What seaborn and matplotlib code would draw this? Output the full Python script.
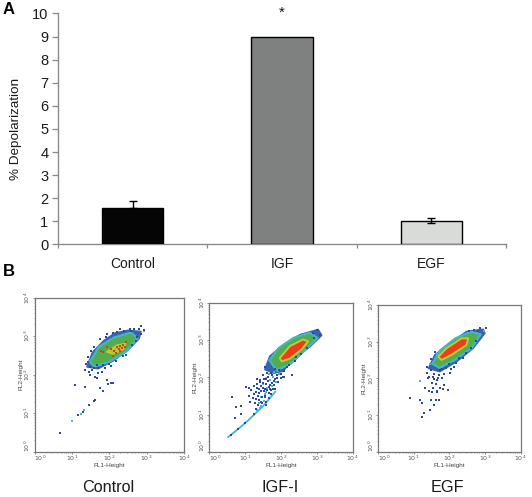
import matplotlib
matplotlib.use("Agg")
import matplotlib.pyplot as plt
import numpy as np
import pandas as pd
import seaborn as sns

sns.set_theme(style="white")
plt.rcParams['font.family'] = ['Liberation Sans', 'DejaVu Sans']

# ---------- bar data ----------
categories = ["Control", "IGF", "EGF"]
depolarization = [1.6, 9.0, 1.03]
err_cats = ["Control", "EGF"]
err_vals = [1.6, 1.03]
err_up = [0.27, 0.11]
err_down = [0.0, 0.11]
bar_colors = ["#050505", "#7f8180", "#d9dbd9"]

# ---------- flow plots: values in decades (log10) ----------
c_out_x = [.67,1.17,1.29,1.46,1.58,1.63,1.08,1.36,1.76,1.83,1.95,1.96,2.04,2.11,1.49,1.63,1.67,1.71,1.80,1.36,1.47,1.58,1.71,1.89,1.38,1.49,2.85,2.94,2.79,2.65,1.42,1.52,1.60,1.75,1.95,2.30,2.55,2.75,2.05,2.45,1.44,1.55,1.66,1.82,2.0,2.18,2.36,2.62,2.72,2.86,2.22,2.58,1.90,2.10,2.40]
c_out_y = [.48,.96,1.04,1.20,1.32,1.35,1.72,1.67,1.64,1.57,1.85,1.75,1.77,1.79,1.98,1.94,1.90,2.03,2.07,2.11,2.07,2.16,2.18,2.16,2.28,2.20,3.25,3.16,3.19,3.19,2.45,2.62,2.72,2.92,3.05,3.17,3.18,2.98,2.22,2.50,2.32,2.12,2.24,2.26,2.28,2.36,2.48,2.76,2.88,3.06,3.10,3.12,2.98,3.08,3.14]
c_cy_x = [1.01,1.24,1.33,2.92]
c_cy_y = [.79,.99,1.08,3.12]
c_blue_x = [1.40,1.55,1.85,2.15,2.50,2.85,2.80,2.50,2.10,1.70]
c_blue_y = [2.20,2.58,2.88,3.08,3.15,3.12,2.93,2.63,2.35,2.15]
c_green_x = [1.48,1.72,2.12,2.58,2.76,2.44,1.98,1.60]
c_green_y = [2.33,2.72,2.96,3.09,2.94,2.59,2.32,2.21]
c_core_x = [1.94,2.21,2.43,2.38,2.11]
c_core_y = [2.59,2.76,2.80,2.67,2.54]
c_red_x = [1.78,1.82,2.05,2.12,2.20,2.25,2.28,2.33,2.38,2.42,2.18,2.30,2.45,1.95,2.10]
c_red_y = [2.62,2.58,2.66,2.60,2.72,2.66,2.75,2.70,2.78,2.72,2.56,2.62,2.85,2.72,2.48]

i_out_x = [.65,.75,.88,.90,.72,1.02,1.10,1.12,1.18,1.22,1.25,1.28,1.30,1.33,1.36,1.38,1.40,1.42,1.45,1.47,1.50,1.52,1.55,1.58,1.60,1.62,1.65,1.68,1.70,1.72,1.75,1.78,1.80,1.85,1.90,1.95,2.00,2.05,2.10,2.30,1.15,1.24,1.31,1.35,1.40,1.44,1.48,1.53,1.57,1.63,1.67,1.71,1.76,1.82,1.88,1.30,1.37,1.45,1.55,1.60,3.0,3.1,2.9,1.34,1.43,1.50,1.58,1.66,1.73,1.84,1.92,2.0,2.08,2.16,2.42,2.55,2.72,2.92,1.50,1.62,1.73,1.85,1.56,2.38,2.22,.60,.82,1.0,1.25]
i_out_y = [1.46,1.20,1.24,1.02,.90,1.75,1.72,1.50,1.65,1.45,1.78,1.30,1.60,1.82,1.50,1.70,1.38,1.88,1.62,1.30,1.72,1.95,1.50,1.82,1.35,1.66,2.00,1.45,1.80,1.55,2.05,1.70,1.90,1.95,2.05,2.20,2.10,2.02,2.00,2.05,1.35,1.55,1.42,1.95,1.58,1.78,1.46,1.62,1.68,1.90,1.58,1.70,1.85,1.80,1.98,1.15,1.25,1.35,1.48,1.25,3.28,3.13,3.20,1.72,1.92,1.85,1.95,1.75,1.65,1.70,1.88,1.98,2.18,2.28,2.55,2.62,2.78,3.05,2.05,2.12,2.12,2.22,2.28,2.44,2.34,.45,.62,.78,1.02]
i_cy_x = [1.38,1.46,1.55,1.62,1.70,1.78,1.86,1.94,1.50,1.68,1.82,1.58,1.74,1.92,2.02,1.44,1.52,1.60,1.34,1.42]
i_cy_y = [1.32,1.48,1.55,1.72,1.92,2.02,1.88,2.08,1.82,2.08,2.14,1.98,1.78,2.18,2.24,1.24,1.36,1.60,1.12,1.18]
i_tail_x = [.53,.80,1.10,1.50,1.85]
i_tail_y = [.39,.60,.85,1.22,1.62]
i_blue_x = [1.55,1.69,2.07,2.53,3.04,3.14,2.81,2.34,2.06,1.79]
i_blue_y = [2.21,2.57,2.88,3.15,3.29,3.13,2.82,2.48,2.16,2.11]
i_green_x = [1.68,1.93,2.35,2.80,3.02,2.68,2.28,1.88]
i_green_y = [2.46,2.78,3.06,3.20,3.06,2.74,2.37,2.19]
i_core_x = [1.97,2.25,2.62,2.76,2.58,2.25,2.02]
i_core_y = [2.52,2.84,3.02,2.97,2.75,2.50,2.43]

e_out_x = [.89,1.17,1.23,1.32,1.43,1.55,1.66,1.73,1.85,1.97,1.81,1.48,1.62,1.71,1.56,1.45,1.30,1.23,1.50,1.66,1.41,1.55,1.66,1.78,2.01,2.20,2.39,3.04,2.86,1.38,1.44,1.48,1.52,1.58,1.62,1.70,1.75,1.85,1.92,2.05,2.12,2.55,2.70,2.80,1.36,1.48,1.60,1.58,1.68,1.80,1.98,2.28,2.46,2.62,2.74]
e_out_y = [1.47,1.41,1.34,1.73,1.65,1.75,1.65,1.75,1.81,1.68,1.70,1.41,1.41,1.41,1.26,1.14,1.05,.94,1.64,1.62,2.00,2.05,1.95,2.00,2.14,2.41,2.56,3.37,3.36,2.15,2.05,2.22,1.88,2.12,1.85,2.10,2.22,2.12,2.28,2.25,2.32,3.30,3.33,3.28,2.32,2.52,2.72,1.98,2.02,2.26,2.38,2.55,2.68,2.84,3.02]
e_cy_x = [1.17,1.46,1.64,1.78,1.90,2.98]
e_cy_y = [1.94,2.40,2.66,2.30,2.40,3.28]
e_blue_x = [1.41,1.59,2.01,2.48,2.95,3.00,2.67,2.20,1.73]
e_blue_y = [2.27,2.64,2.95,3.28,3.34,3.23,2.82,2.45,2.18]
e_green_x = [1.52,1.74,2.17,2.60,2.88,2.63,2.15,1.72]
e_green_y = [2.40,2.76,3.09,3.27,3.20,2.83,2.50,2.29]
e_core_x = [1.69,1.92,2.34,2.53,2.48,2.06,1.78]
e_core_y = [2.59,2.82,3.09,3.09,2.91,2.64,2.50]

panels = [
    dict(rect=(34.5, 297.5, 184, 451.7), ox=c_out_x, oy=c_out_y, cyx=c_cy_x, cyy=c_cy_y,
         bx=c_blue_x, by=c_blue_y, gx=c_green_x, gy=c_green_y, kx=c_core_x, ky=c_core_y,
         core="#a9c437", rx=c_red_x, ry=c_red_y, tx=None, ty=None, title="Control", cx=108),
    dict(rect=(209, 303, 352.7, 451.7), ox=i_out_x, oy=i_out_y, cyx=i_cy_x, cyy=i_cy_y,
         bx=i_blue_x, by=i_blue_y, gx=i_green_x, gy=i_green_y, kx=i_core_x, ky=i_core_y,
         core="#ea3f1c", rx=None, ry=None, tx=i_tail_x, ty=i_tail_y, title="IGF-I", cx=280),
    dict(rect=(378, 305, 520.7, 451.7), ox=e_out_x, oy=e_out_y, cyx=e_cy_x, cyy=e_cy_y,
         bx=e_blue_x, by=e_blue_y, gx=e_green_x, gy=e_green_y, kx=e_core_x, ky=e_core_y,
         core="#ea3f1c", rx=None, ry=None, tx=None, ty=None, title="EGF", cx=447),
]

W, H = 532, 497
fig = plt.figure(figsize=(W / 100, H / 100), dpi=100, facecolor="white")

def px_axes(x0, y0, x1, y1):
    return fig.add_axes([x0 / W, 1 - y1 / H, (x1 - x0) / W, (y1 - y0) / H])

# ---------- panel A ----------
ax = px_axes(58, 13.5, 506, 244.5)
df = pd.DataFrame({"cat": categories, "val": depolarization})
sns.barplot(data=df, x="cat", y="val", hue="cat", palette=bar_colors, legend=False,
            width=0.41, edgecolor="black", linewidth=1.0, ax=ax, zorder=3)
ax.errorbar(err_cats, err_vals, yerr=[err_down, err_up], fmt="none",
            ecolor="black", elinewidth=1, capsize=3, capthick=1, zorder=4)
ax.set_xlim(-0.5, 2.5)
ax.set_ylim(0, 10)
ax.set_yticks(range(11))
ax.set_xlabel("")
ax.set_ylabel("% Depolarization", fontsize=9.7, color="#1a1a1a", labelpad=7)
ax.tick_params(axis="y", labelsize=10.5, length=4, width=0.9, color="#8a8a8a", labelcolor="#1a1a1a",
               left=True, pad=3)
ax.tick_params(axis="x", labelsize=10, length=0, pad=9, labelcolor="#1a1a1a")
ax.set_xticks([-0.5, 0.5, 1.5, 2.5], minor=True)
ax.tick_params(axis="x", which="minor", length=3, width=0.9, color="#8a8a8a", bottom=True)
for s in ["top", "right"]:
    ax.spines[s].set_visible(False)
for s in ["left", "bottom"]:
    ax.spines[s].set_color("#8a8a8a")
    ax.spines[s].set_linewidth(1.0)
ax.text(1, 10.05, "*", ha="center", va="center", fontsize=11, color="#111111", clip_on=False)

# ---------- panel B ----------
minor_decades = [d + m for d in range(4) for m in
                 [0.301, 0.477, 0.602, 0.699, 0.778, 0.845, 0.903, 0.954]]
tick_text = ["$10^{0}$", "$10^{1}$", "$10^{2}$", "$10^{3}$", "$10^{4}$"]

for p in panels:
    a = px_axes(*p["rect"])
    a.set_xlim(0, 4)
    a.set_ylim(0, 4)
    a.fill(p["bx"], p["by"], facecolor="#3a62ae", edgecolor="#3a62ae", lw=1.0, joinstyle="round", zorder=2)
    a.fill(p["gx"], p["gy"], facecolor="#52ad4c", edgecolor="#43b7c0", lw=1.6, joinstyle="round", zorder=3)
    a.fill(p["kx"], p["ky"], facecolor=p["core"], edgecolor="#c3c934", lw=1.4, joinstyle="round", zorder=4)
    if p["tx"] is not None:
        a.plot(p["tx"], p["ty"], color="#45b4d8", lw=1.3, zorder=2)
    sns.scatterplot(x=p["cyx"], y=p["cyy"], color="#45b4d8", s=4, linewidth=0, marker="s", ax=a, zorder=5)
    sns.scatterplot(x=p["ox"], y=p["oy"], color="#2b4a9e", s=4, linewidth=0, marker="s", ax=a, zorder=5)
    if p["rx"] is not None:
        sns.scatterplot(x=p["rx"], y=p["ry"], color="#e2381c", s=3, linewidth=0, marker="s", ax=a, zorder=6)
    a.set_xticks(range(5))
    a.set_yticks(range(5))
    a.set_xticklabels(tick_text, fontsize=4.5, color="#555555")
    a.set_yticklabels(tick_text, fontsize=4.5, color="#555555", rotation=90, va="center")
    a.get_xticklabels()[0].set_ha("left")
    a.get_yticklabels()[0].set_va("bottom")
    a.set_xticks(minor_decades, minor=True)
    a.set_yticks(minor_decades, minor=True)
    a.tick_params(axis="both", which="major", length=1.5, width=0.5, color="#666666",
                  bottom=True, left=True, pad=0)
    a.tick_params(axis="both", which="minor", length=0.8, width=0.4, color="#666666",
                  bottom=True, left=True)
    a.set_xlabel("FL1-Height", fontsize=4.6, color="#444444", labelpad=0)
    a.set_ylabel("FL2-Height", fontsize=4.6, color="#444444", labelpad=0)
    for s in a.spines.values():
        s.set_color("#777777")
        s.set_linewidth(0.9)
    fig.text(p["cx"] / W, 1 - 488 / H, p["title"], ha="center", va="center",
             fontsize=11.7, color="#1a1a1a")

fig.text(3 / W, 1 - 9 / H, "A", fontsize=12, fontweight="bold", color="black", ha="left", va="center")
fig.text(3 / W, 1 - 272 / H, "B", fontsize=12, fontweight="bold", color="black", ha="left", va="center")

fig.savefig("out.png", dpi=100, facecolor="white")
